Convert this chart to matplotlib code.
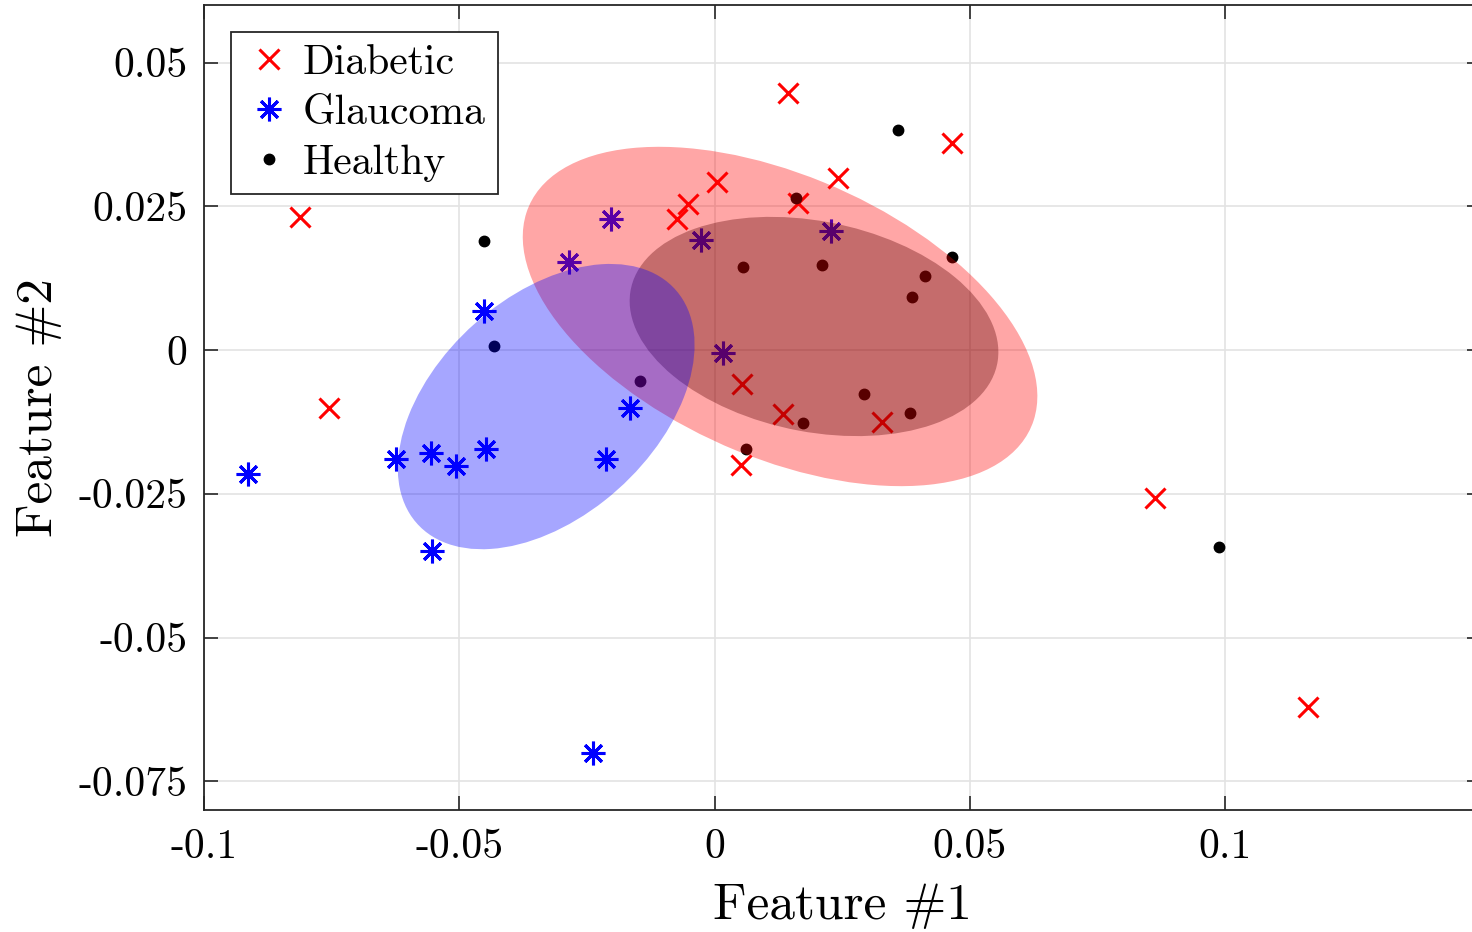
import numpy as np
import matplotlib.pyplot as plt
from matplotlib.patches import Ellipse

plt.rcParams['font.family'] = 'cmr10'
plt.rcParams['mathtext.fontset'] = 'cm'
plt.rcParams['axes.unicode_minus'] = False
plt.rcParams['axes.formatter.use_mathtext'] = True

# feature values per class
diabetic_x = [0.0143, 0.0464, -0.0812, 0.0004, 0.0241, -0.0053, -0.0074, 0.0164,
              -0.0755, 0.0053, 0.0133, 0.0327, 0.0051, 0.0863, 0.1162]
diabetic_y = [0.0447, 0.0360, 0.0232, 0.0292, 0.0299, 0.0254, 0.0228, 0.0256,
              -0.0101, -0.0059, -0.0111, -0.0125, -0.0200, -0.0258, -0.0620]

glaucoma_x = [-0.0914, -0.0624, -0.0556, -0.0507, -0.0448, -0.0452, -0.0554, -0.0286,
              -0.0202, -0.0213, -0.0166, -0.0239, -0.0027, 0.0227, 0.0016]
glaucoma_y = [-0.0216, -0.0190, -0.0179, -0.0202, -0.0172, 0.0068, -0.0350, 0.0153,
              0.0228, -0.0190, -0.0101, -0.0700, 0.0192, 0.0207, -0.0005]

healthy_x = [0.0360, -0.0452, -0.0432, 0.0160, 0.0055, 0.0211, 0.0464, 0.0413,
             0.0386, -0.0147, 0.0292, 0.0382, 0.0174, 0.0061, 0.0988]
healthy_y = [0.0383, 0.0190, 0.0007, 0.0265, 0.0144, 0.0148, 0.0162, 0.0129,
             0.0092, -0.0054, -0.0077, -0.0110, -0.0127, -0.0172, -0.0343]

# class ellipses: centre and shape matrix
diabetic_center = [0.01282, 0.00583]
diabetic_shape = [[0.0025393, -0.00069842], [-0.00069842, 0.00087078]]
healthy_center = [0.01947, 0.00409]
healthy_shape = [[0.0013036, -0.00016013], [-0.00016013, 0.00036340]]
glaucoma_center = [-0.03298, -0.00984]
glaucoma_shape = [[0.00084451, 0.00031174], [0.00031174, 0.00061545]]

xticks = [-0.1, -0.05, 0, 0.05, 0.1]
xtick_labels = ['-0.1', '-0.05', '0', '0.05', '0.1']
yticks = [0.05, 0.025, 0, -0.025, -0.05, -0.075]
ytick_labels = ['0.05', '0.025', '0', '-0.025', '-0.05', '-0.075']


def shape_ellipse(center, shape, color, alpha, z):
    vals, vecs = np.linalg.eigh(np.array(shape))
    angle = np.degrees(np.arctan2(vecs[1, 1], vecs[0, 1]))
    return Ellipse(center, 2 * np.sqrt(vals[1]), 2 * np.sqrt(vals[0]), angle=angle,
                   facecolor=color, edgecolor='none', alpha=alpha, zorder=z)


fig = plt.figure(figsize=(14.72, 9.32), dpi=100)
ax = fig.add_axes([204 / 1472, 122 / 932, 1276.5 / 1472, 805 / 932])

ax.plot(diabetic_x, diabetic_y, 'x', color='#ff0000', ms=14, mew=2.2, label='Diabetic', zorder=2)
ax.plot(glaucoma_x, glaucoma_y, marker=(8, 2, 0), ls='none', color='#0000ff', ms=17, mew=2.2,
        label='Glaucoma', zorder=2)
ax.plot(healthy_x, healthy_y, 'o', color='black', ms=7.5, label='Healthy', zorder=2)

# healthy (black) underneath, then diabetic, glaucoma on top
ax.add_patch(shape_ellipse(healthy_center, healthy_shape, '#000000', 0.35, 3))
ax.add_patch(shape_ellipse(diabetic_center, diabetic_shape, '#ff0000', 0.35, 3.1))
ax.add_patch(shape_ellipse(glaucoma_center, glaucoma_shape, '#0000ff', 0.35, 3.2))

ax.set_xlim(-0.1, 0.15)
ax.set_ylim(-0.08, 0.06)
ax.set_xticks(xticks)
ax.set_xticklabels(xtick_labels)
ax.set_yticks(yticks)
ax.set_yticklabels(ytick_labels)

ax.grid(True, color='#e3e3e3', lw=1.2)
ax.set_axisbelow(True)
for s in ax.spines.values():
    s.set_color('#262626')
    s.set_linewidth(1.3)
ax.tick_params(direction='in', length=10, width=1.2, color='#262626', top=True, right=True,
               labelsize=30, pad=12)
ax.tick_params(axis='x', pad=13)

ax.set_xlabel('Feature #1', fontsize=37, labelpad=13)
ax.set_ylabel('Feature #2', fontsize=37, labelpad=12)

leg = ax.legend(loc='upper left', bbox_to_anchor=(0.0212, 0.9665), borderaxespad=0,
                fontsize=30, fancybox=False, framealpha=1, edgecolor='#262626',
                handletextpad=0.22, labelspacing=0.3, borderpad=0.3, handlelength=1.2)
leg.get_frame().set_linewidth(1.3)
leg.set_zorder(5)

fig.savefig('out.png', dpi=100)
